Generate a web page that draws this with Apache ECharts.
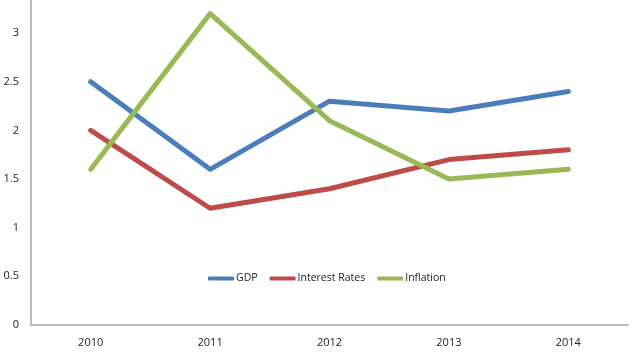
<!DOCTYPE html>
<html><head><meta charset="utf-8">
<script src="https://cdn.jsdelivr.net/npm/echarts@6/dist/echarts.min.js"></script>
<style>html,body{margin:0;padding:0;background:#fff}#c{width:640px;height:360px}</style>
</head><body><div id="c"></div>
<script>
var categories = ['2010','2011','2012','2013','2014'];
var gdp = [2.5, 1.6, 2.3, 2.2, 2.4];
var interestRates = [2.0, 1.2, 1.4, 1.7, 1.8];
var inflation = [1.6, 3.2, 2.1, 1.5, 1.6];
var seriesNames = ['GDP','Interest Rates','Inflation'];
var colors = ['#4A7EBB','#BE4B48','#98B954'];
var chart = echarts.init(document.getElementById('c'));
var font = '"Open Sans", "Liberation Sans", sans-serif';
function mk(name, data, color){
  return {name:name,type:'line',data:data,symbol:'none',
    lineStyle:{width:5,color:color,cap:'round',join:'round'},itemStyle:{color:color}};
}
chart.setOption({
  animation:false,
  grid:{left:31,right:12,top:0,bottom:35,containLabel:false},
  legend:{left:203,top:268,icon:'roundRect',itemWidth:26,itemHeight:4,itemGap:12,
    textStyle:{fontFamily:font,fontSize:10.5,color:'#222',padding:[0,0,0,-3]},
    data:seriesNames},
  xAxis:{type:'category',data:categories,boundaryGap:true,
    axisLine:{lineStyle:{color:'#A6A6A6',width:1.5}},axisTick:{show:false},
    axisLabel:{fontFamily:font,fontSize:11,color:'#222',margin:12}},
  yAxis:{type:'value',min:0,max:3.34,interval:0.5,
    axisLine:{show:true,lineStyle:{color:'#A6A6A6',width:1.5}},axisTick:{show:false},
    splitLine:{show:false},
    axisLabel:{fontFamily:font,fontSize:11,color:'#222',margin:12,showMaxLabel:false,
      formatter:function(v){return (Math.abs(v*2-Math.round(v*2))<1e-6)?String(v):'';}}},
  series:[mk(seriesNames[0],gdp,colors[0]),mk(seriesNames[1],interestRates,colors[1]),mk(seriesNames[2],inflation,colors[2])]
});
</script></body></html>
